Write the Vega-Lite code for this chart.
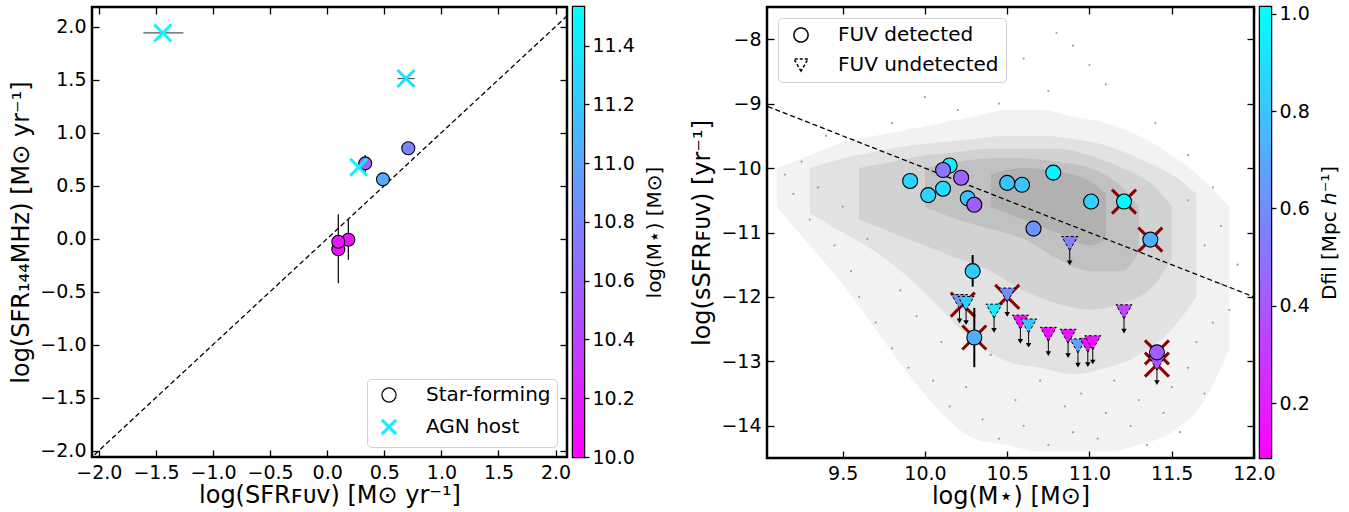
{
  "$schema": "https://vega.github.io/schema/vega-lite/v6.json",
  "background": "white",
  "padding": {"left": 8, "top": 3, "right": 2, "bottom": 2},
  "config": {
    "font": "DejaVu Sans",
    "view": {"stroke": "black", "strokeWidth": 2.5},
    "axis": {"grid": false, "domain": false, "ticks": true, "tickColor": "black", "tickWidth": 1.3, "tickSize": -7, "labelPadding": 13, "labelFontSize": 19, "labelColor": "black", "labelFont": "DejaVu Sans", "titleFont": "DejaVu Sans", "titleFontSize": 24, "titleFontWeight": "normal", "titleColor": "black", "labelFlush": false, "labelOverlap": false, "titlePadding": 6},
    "legend": {"labelFontSize": 20, "labelColor": "black", "labelFont": "DejaVu Sans", "labelLimit": 400, "fillColor": "white", "strokeColor": "#d0d0d0", "cornerRadius": 4, "padding": 6, "rowPadding": 8, "symbolSize": 200, "symbolOpacity": 1, "labelOffset": 27, "symbolOffset": 6}
  },
  "datasets": {
    "diag": [{"v": -2.5}, {"v": 2.5}],
    "sf": [
      {"sfuv": 0.333, "s144": 0.71, "mass": 10.6},
      {"sfuv": 0.488, "s144": 0.559, "mass": 11.0},
      {"sfuv": 0.71, "s144": 0.852, "mass": 10.78},
      {"sfuv": 0.185, "s144": -0.01, "mass": 10.12},
      {"sfuv": 0.097, "s144": -0.10, "mass": 10.1},
      {"sfuv": 0.097, "s144": -0.03, "mass": 10.12}
    ],
    "agn": [
      {"sfuv": -1.44, "s144": 1.94, "mass": 11.47},
      {"sfuv": 0.69, "s144": 1.51, "mass": 11.3},
      {"sfuv": 0.275, "s144": 0.673, "mass": 11.45}
    ],
    "errv1": [
      {"sfuv": 0.097, "lo": -0.42, "hi": 0.23},
      {"sfuv": 0.185, "lo": -0.20, "hi": 0.18},
      {"sfuv": 0.333, "lo": 0.63, "hi": 0.79}
    ],
    "errh1": [
      {"s144": 1.94, "lo": -1.61, "hi": -1.26},
      {"s144": 1.51, "lo": 0.615, "hi": 0.765}
    ],
    "kindsL": [{"kind": "Star-forming"}, {"kind": "AGN host"}],
    "kindsR": [{"kind": "FUV detected"}, {"kind": "FUV undetected"}],
    "cloud": [
      {"m": 9.1, "lo": -10.0, "hi": -10.6, "lev": 1},
      {"m": 9.3, "lo": -9.8, "hi": -11.2, "lev": 1},
      {"m": 9.5, "lo": -9.6, "hi": -11.8, "lev": 1},
      {"m": 9.7, "lo": -9.5, "hi": -12.5, "lev": 1},
      {"m": 9.9, "lo": -9.4, "hi": -13.2, "lev": 1},
      {"m": 10.1, "lo": -9.3, "hi": -13.8, "lev": 1},
      {"m": 10.3, "lo": -9.2, "hi": -14.2, "lev": 1},
      {"m": 10.5, "lo": -9.1, "hi": -14.3, "lev": 1},
      {"m": 10.7, "lo": -9.1, "hi": -14.4, "lev": 1},
      {"m": 10.9, "lo": -9.2, "hi": -14.4, "lev": 1},
      {"m": 11.1, "lo": -9.3, "hi": -14.4, "lev": 1},
      {"m": 11.3, "lo": -9.5, "hi": -14.3, "lev": 1},
      {"m": 11.5, "lo": -9.8, "hi": -14.1, "lev": 1},
      {"m": 11.7, "lo": -10.2, "hi": -13.6, "lev": 1},
      {"m": 11.85, "lo": -10.6, "hi": -12.8, "lev": 1},
      {"m": 9.3, "lo": -10.0, "hi": -10.7, "lev": 2},
      {"m": 9.5, "lo": -9.85, "hi": -11.0, "lev": 2},
      {"m": 9.7, "lo": -9.75, "hi": -11.3, "lev": 2},
      {"m": 9.9, "lo": -9.65, "hi": -11.7, "lev": 2},
      {"m": 10.1, "lo": -9.6, "hi": -12.2, "lev": 2},
      {"m": 10.3, "lo": -9.55, "hi": -12.7, "lev": 2},
      {"m": 10.5, "lo": -9.5, "hi": -13.0, "lev": 2},
      {"m": 10.7, "lo": -9.5, "hi": -13.1, "lev": 2},
      {"m": 10.9, "lo": -9.55, "hi": -13.2, "lev": 2},
      {"m": 11.1, "lo": -9.65, "hi": -13.1, "lev": 2},
      {"m": 11.3, "lo": -9.85, "hi": -12.9, "lev": 2},
      {"m": 11.5, "lo": -10.1, "hi": -12.5, "lev": 2},
      {"m": 11.65, "lo": -10.4, "hi": -12.0, "lev": 2},
      {"m": 9.6, "lo": -10.0, "hi": -10.8, "lev": 3},
      {"m": 9.8, "lo": -9.9, "hi": -11.0, "lev": 3},
      {"m": 10.0, "lo": -9.8, "hi": -11.2, "lev": 3},
      {"m": 10.2, "lo": -9.75, "hi": -11.4, "lev": 3},
      {"m": 10.4, "lo": -9.7, "hi": -11.6, "lev": 3},
      {"m": 10.6, "lo": -9.7, "hi": -11.9, "lev": 3},
      {"m": 10.8, "lo": -9.7, "hi": -12.1, "lev": 3},
      {"m": 11.0, "lo": -9.8, "hi": -12.2, "lev": 3},
      {"m": 11.2, "lo": -10.0, "hi": -12.1, "lev": 3},
      {"m": 11.4, "lo": -10.3, "hi": -11.8, "lev": 3},
      {"m": 11.5, "lo": -10.6, "hi": -11.4, "lev": 3},
      {"m": 10.0, "lo": -10.0, "hi": -10.6, "lev": 4},
      {"m": 10.2, "lo": -9.9, "hi": -10.8, "lev": 4},
      {"m": 10.4, "lo": -9.85, "hi": -10.95, "lev": 4},
      {"m": 10.6, "lo": -9.85, "hi": -11.1, "lev": 4},
      {"m": 10.8, "lo": -9.9, "hi": -11.4, "lev": 4},
      {"m": 11.0, "lo": -10.0, "hi": -11.6, "lev": 4},
      {"m": 11.2, "lo": -10.3, "hi": -11.6, "lev": 4},
      {"m": 11.3, "lo": -10.6, "hi": -11.3, "lev": 4},
      {"m": 10.4, "lo": -10.1, "hi": -10.6, "lev": 5},
      {"m": 10.6, "lo": -10.0, "hi": -10.8, "lev": 5},
      {"m": 10.8, "lo": -10.05, "hi": -11.0, "lev": 5},
      {"m": 11.0, "lo": -10.2, "hi": -11.2, "lev": 5},
      {"m": 11.1, "lo": -10.4, "hi": -11.1, "lev": 5}
    ],
    "dots": [
      {"m": 10.3, "s": -8.6}, {"m": 10.6, "s": -8.3}, {"m": 10.9, "s": -8.1}, {"m": 10.75, "s": -8.8},
      {"m": 11.1, "s": -8.7}, {"m": 10.45, "s": -9.0}, {"m": 9.8, "s": -9.3}, {"m": 9.4, "s": -9.5},
      {"m": 11.4, "s": -9.3}, {"m": 11.6, "s": -9.8}, {"m": 10.0, "s": -8.9}, {"m": 10.2, "s": -9.1},
      {"m": 11.0, "s": -8.4}, {"m": 10.8, "s": -7.9}, {"m": 9.15, "s": -10.1}, {"m": 9.2, "s": -10.4},
      {"m": 9.25, "s": -9.9}, {"m": 9.3, "s": -10.8}, {"m": 9.35, "s": -10.3}, {"m": 9.45, "s": -11.2},
      {"m": 9.5, "s": -10.6}, {"m": 9.55, "s": -11.6}, {"m": 9.6, "s": -12.0}, {"m": 9.65, "s": -11.1},
      {"m": 9.7, "s": -12.4}, {"m": 9.8, "s": -12.8}, {"m": 9.85, "s": -11.9}, {"m": 9.9, "s": -13.1},
      {"m": 9.95, "s": -12.3}, {"m": 10.05, "s": -13.3}, {"m": 10.1, "s": -12.7}, {"m": 10.15, "s": -13.7},
      {"m": 10.25, "s": -13.4}, {"m": 10.35, "s": -13.9}, {"m": 10.4, "s": -12.9}, {"m": 10.45, "s": -14.2},
      {"m": 10.55, "s": -13.6}, {"m": 10.6, "s": -14.0}, {"m": 10.7, "s": -13.3}, {"m": 10.75, "s": -14.3},
      {"m": 10.85, "s": -13.7}, {"m": 10.9, "s": -14.1}, {"m": 10.95, "s": -13.5}, {"m": 11.05, "s": -14.2},
      {"m": 11.1, "s": -13.8}, {"m": 11.15, "s": -13.3}, {"m": 11.25, "s": -14.0}, {"m": 11.3, "s": -13.6},
      {"m": 11.35, "s": -14.3}, {"m": 11.45, "s": -13.8}, {"m": 11.5, "s": -13.4}, {"m": 11.55, "s": -14.1},
      {"m": 11.6, "s": -13.1}, {"m": 11.65, "s": -12.7}, {"m": 11.7, "s": -13.5}, {"m": 11.75, "s": -12.4},
      {"m": 11.8, "s": -11.8}, {"m": 11.85, "s": -12.2}, {"m": 11.9, "s": -11.5}, {"m": 11.7, "s": -11.2},
      {"m": 11.8, "s": -10.9}, {"m": 11.6, "s": -10.5}, {"m": 11.75, "s": -10.3}
    ],
    "msline": [{"m": 9.0, "s": -9.0}, {"m": 12.0, "s": -12.0}],
    "det": [
      {"m": 9.91, "s": -10.20, "d": 0.85},
      {"m": 10.02, "s": -10.42, "d": 0.85},
      {"m": 10.11, "s": -10.32, "d": 0.88},
      {"m": 10.15, "s": -9.96, "d": 0.95},
      {"m": 10.11, "s": -10.03, "d": 0.52},
      {"m": 10.22, "s": -10.15, "d": 0.45},
      {"m": 10.26, "s": -10.47, "d": 0.80},
      {"m": 10.30, "s": -10.57, "d": 0.43},
      {"m": 10.50, "s": -10.23, "d": 0.80},
      {"m": 10.59, "s": -10.26, "d": 0.80},
      {"m": 10.78, "s": -10.07, "d": 0.97},
      {"m": 10.66, "s": -10.94, "d": 0.62},
      {"m": 11.01, "s": -10.52, "d": 0.85},
      {"m": 11.21, "s": -10.52, "d": 1.0},
      {"m": 11.37, "s": -11.11, "d": 0.73},
      {"m": 10.29, "s": -11.60, "d": 0.82},
      {"m": 10.30, "s": -12.63, "d": 0.71},
      {"m": 11.41, "s": -12.86, "d": 0.43}
    ],
    "undet": [
      {"m": 10.88, "s": -11.17, "lim": -11.47, "d": 0.55},
      {"m": 10.21, "s": -12.07, "lim": -12.37, "d": 0.62},
      {"m": 10.25, "s": -12.10, "lim": -12.40, "d": 0.82},
      {"m": 10.42, "s": -12.22, "lim": -12.52, "d": 0.95},
      {"m": 10.50, "s": -11.97, "lim": -12.27, "d": 0.60},
      {"m": 10.58, "s": -12.39, "lim": -12.69, "d": 0.13},
      {"m": 10.63, "s": -12.45, "lim": -12.75, "d": 0.80},
      {"m": 10.75, "s": -12.58, "lim": -12.88, "d": 0.12},
      {"m": 10.87, "s": -12.61, "lim": -12.91, "d": 0.15},
      {"m": 10.93, "s": -12.76, "lim": -13.06, "d": 0.68},
      {"m": 10.99, "s": -12.75, "lim": -13.05, "d": 0.12},
      {"m": 11.02, "s": -12.71, "lim": -13.01, "d": 0.16},
      {"m": 11.21, "s": -12.23, "lim": -12.53, "d": 0.33},
      {"m": 11.41, "s": -13.03, "lim": -13.33, "d": 0.40}
    ],
    "xmarks": [
      {"m": 11.21, "s": -10.52}, {"m": 11.37, "s": -11.11}, {"m": 10.23, "s": -12.12},
      {"m": 10.50, "s": -12.00}, {"m": 10.30, "s": -12.63}, {"m": 11.41, "s": -12.86},
      {"m": 11.41, "s": -13.05}
    ],
    "errR": [
      {"m": 10.29, "lo": -11.35, "hi": -11.84},
      {"m": 10.30, "lo": -12.17, "hi": -13.09}
    ]
  },
  "spacing": 23,
  "resolve": {"scale": {"fill": "independent", "stroke": "independent", "color": "independent", "shape": "independent", "strokeWidth": "independent", "strokeDash": "independent", "opacity": "independent"}},
  "hconcat": [
    {
      "spacing": 6,
      "bounds": "flush",
      "resolve": {"scale": {"fill": "independent", "stroke": "independent", "color": "independent", "shape": "independent", "strokeWidth": "independent", "strokeDash": "independent", "opacity": "independent"}},
      "hconcat": [
        {
          "width": 475, "height": 450,
          "layer": [
            {"data": {"name": "diag"},
             "mark": {"type": "line", "color": "black", "strokeWidth": 1.3, "strokeDash": [5, 3], "clip": true},
             "encoding": {
               "x": {"field": "v", "type": "quantitative", "scale": {"domain": [-2.06, 2.1], "nice": false, "zero": false},
                     "axis": {"orient": "bottom", "values": [-2, -1.5, -1, -0.5, 0, 0.5, 1, 1.5, 2], "format": ".1f", "title": "log(SFRꜰᴜᴠ) [M⊙ yr⁻¹]", "titlePadding": 1}},
               "y": {"field": "v", "type": "quantitative", "scale": {"domain": [-2.06, 2.185], "nice": false, "zero": false},
                     "axis": {"orient": "left", "values": [-2, -1.5, -1, -0.5, 0, 0.5, 1, 1.5, 2], "format": ".1f", "title": "log(SFR₁₄₄MHz) [M⊙ yr⁻¹]"}}
             }},
            {"data": {"name": "diag"},
             "mark": {"type": "line", "opacity": 0, "clip": true},
             "encoding": {
               "x": {"field": "v", "type": "quantitative", "scale": {"domain": [-2.06, 2.1], "nice": false, "zero": false},
                     "axis": {"orient": "top", "values": [-2, -1.5, -1, -0.5, 0, 0.5, 1, 1.5, 2], "labels": false, "title": null}},
               "y": {"field": "v", "type": "quantitative", "scale": {"domain": [-2.06, 2.185], "nice": false, "zero": false},
                     "axis": {"orient": "right", "values": [-2, -1.5, -1, -0.5, 0, 0.5, 1, 1.5, 2], "labels": false, "title": null}}
             }},
            {"data": {"name": "errv1"},
             "mark": {"type": "rule", "color": "black", "strokeWidth": 1.2},
             "encoding": {
               "x": {"field": "sfuv", "type": "quantitative", "scale": {"domain": [-2.06, 2.1], "nice": false, "zero": false}, "axis": null},
               "y": {"field": "lo", "type": "quantitative", "scale": {"domain": [-2.06, 2.185], "nice": false, "zero": false}, "axis": null},
               "y2": {"field": "hi"}
             }},
            {"data": {"name": "errh1"},
             "mark": {"type": "rule", "color": "#555555", "strokeWidth": 1.2},
             "encoding": {
               "y": {"field": "s144", "type": "quantitative", "scale": {"domain": [-2.06, 2.185], "nice": false, "zero": false}, "axis": null},
               "x": {"field": "lo", "type": "quantitative", "scale": {"domain": [-2.06, 2.1], "nice": false, "zero": false}, "axis": null},
               "x2": {"field": "hi"}
             }},
            {"data": {"name": "sf"},
             "mark": {"type": "point", "shape": "circle", "filled": true, "size": 169, "stroke": "black", "strokeWidth": 1.1, "opacity": 1},
             "encoding": {
               "x": {"field": "sfuv", "type": "quantitative", "scale": {"domain": [-2.06, 2.1], "nice": false, "zero": false}, "axis": null},
               "y": {"field": "s144", "type": "quantitative", "scale": {"domain": [-2.06, 2.185], "nice": false, "zero": false}, "axis": null},
               "fill": {"field": "mass", "type": "quantitative", "scale": {"domain": [10, 11.5], "range": ["#ff00ff", "#00ffff"], "interpolate": "rgb"}, "legend": null}
             }},
            {"data": {"name": "agn"},
             "mark": {"type": "point", "shape": "M-1,-1L1,1M1,-1L-1,1", "filled": false, "size": 289, "strokeWidth": 3, "opacity": 1},
             "encoding": {
               "x": {"field": "sfuv", "type": "quantitative", "scale": {"domain": [-2.06, 2.1], "nice": false, "zero": false}, "axis": null},
               "y": {"field": "s144", "type": "quantitative", "scale": {"domain": [-2.06, 2.185], "nice": false, "zero": false}, "axis": null},
               "color": {"field": "mass", "type": "quantitative", "scale": {"domain": [10, 11.5], "range": ["#ff00ff", "#00ffff"], "interpolate": "rgb"}, "legend": null}
             }},
            {"data": {"name": "kindsL"},
             "mark": {"type": "point", "filled": false, "opacity": 0},
             "encoding": {
               "shape": {"field": "kind", "type": "nominal", "scale": {"domain": ["Star-forming", "AGN host"], "range": ["circle", "M-1,-1L1,1M1,-1L-1,1"]},
                         "legend": {"title": null, "orient": "bottom-right", "offset": 10}},
               "stroke": {"field": "kind", "type": "nominal", "scale": {"domain": ["Star-forming", "AGN host"], "range": ["black", "#10eeff"]},
                          "legend": {"title": null, "orient": "bottom-right", "offset": 10}},
               "strokeWidth": {"field": "kind", "type": "ordinal", "scale": {"domain": ["Star-forming", "AGN host"], "range": [1.2, 3]},
                               "legend": {"title": null, "orient": "bottom-right", "offset": 10}}
             }}
          ],
          "resolve": {"axis": {"x": "independent", "y": "independent"}}
        },
        {
          "width": 11, "height": 450,
          "data": {"values": [{"lo": 10.0, "hi": 11.531}]},
          "mark": {"type": "rect", "fill": {"gradient": "linear", "x1": 0, "y1": 1, "x2": 0, "y2": 0, "stops": [{"offset": 0, "color": "#ff00ff"}, {"offset": 1, "color": "#00ffff"}]}},
          "encoding": {
            "y": {"field": "lo", "type": "quantitative", "scale": {"domain": [10, 11.531], "nice": false, "zero": false},
                  "axis": {"orient": "right", "values": [10, 10.2, 10.4, 10.6, 10.8, 11, 11.2, 11.4], "format": ".1f", "tickSize": 5, "labelPadding": 3, "title": "log(M⋆) [M⊙]", "titleAngle": 270, "titleBaseline": "top", "titleFontSize": 20, "titlePadding": 10}},
            "y2": {"field": "hi"}
          }
        }
      ]
    },
    {
      "spacing": 6,
      "bounds": "flush",
      "resolve": {"scale": {"fill": "independent", "stroke": "independent", "color": "independent", "shape": "independent", "strokeWidth": "independent", "strokeDash": "independent", "opacity": "independent"}},
      "hconcat": [
        {
          "width": 487, "height": 451,
          "layer": [
            {"data": {"name": "cloud"},
             "mark": {"type": "area", "color": "#555555", "interpolate": "monotone"},
             "encoding": {
               "x": {"field": "m", "type": "quantitative", "scale": {"domain": [9.04, 12.0], "nice": false, "zero": false},
                     "axis": {"orient": "bottom", "values": [9.5, 10, 10.5, 11, 11.5, 12], "format": ".1f", "title": "log(M⋆) [M⊙]", "titlePadding": 1}},
               "y": {"field": "lo", "type": "quantitative", "scale": {"domain": [-14.5, -7.5], "nice": false, "zero": false},
                     "axis": {"orient": "left", "values": [-14, -13, -12, -11, -10, -9, -8], "format": "d", "title": "log(sSFRꜰᴜᴠ) [yr⁻¹]"}},
               "y2": {"field": "hi"},
               "detail": {"field": "lev", "type": "nominal"},
               "opacity": {"field": "lev", "type": "ordinal", "scale": {"domain": [1, 2, 3, 4, 5], "range": [0.08, 0.15, 0.22, 0.3, 0.34]}, "legend": null}
             }},
            {"data": {"name": "dots"},
             "mark": {"type": "circle", "color": "#999999", "size": 5, "opacity": 0.9},
             "encoding": {
               "x": {"field": "m", "type": "quantitative", "scale": {"domain": [9.04, 12.0], "nice": false, "zero": false}, "axis": null},
               "y": {"field": "s", "type": "quantitative", "scale": {"domain": [-14.5, -7.5], "nice": false, "zero": false}, "axis": null}
             }},
            {"data": {"name": "msline"},
             "mark": {"type": "line", "color": "black", "strokeWidth": 1.3, "strokeDash": [5, 3], "clip": true},
             "encoding": {
               "x": {"field": "m", "type": "quantitative", "scale": {"domain": [9.04, 12.0], "nice": false, "zero": false},
                     "axis": {"orient": "top", "values": [9.5, 10, 10.5, 11, 11.5, 12], "labels": false, "title": null}},
               "y": {"field": "s", "type": "quantitative", "scale": {"domain": [-14.5, -7.5], "nice": false, "zero": false},
                     "axis": {"orient": "right", "values": [-14, -13, -12, -11, -10, -9, -8], "labels": false, "title": null}}
             }},
            {"data": {"name": "xmarks"},
             "mark": {"type": "point", "shape": "M-1,-1L1,1M1,-1L-1,1", "filled": false, "size": 576, "strokeWidth": 3, "color": "#8b0000", "opacity": 1},
             "encoding": {
               "x": {"field": "m", "type": "quantitative", "scale": {"domain": [9.04, 12.0], "nice": false, "zero": false}, "axis": null},
               "y": {"field": "s", "type": "quantitative", "scale": {"domain": [-14.5, -7.5], "nice": false, "zero": false}, "axis": null}
             }},
            {"data": {"name": "errR"},
             "mark": {"type": "rule", "color": "black", "strokeWidth": 2},
             "encoding": {
               "x": {"field": "m", "type": "quantitative", "scale": {"domain": [9.04, 12.0], "nice": false, "zero": false}, "axis": null},
               "y": {"field": "lo", "type": "quantitative", "scale": {"domain": [-14.5, -7.5], "nice": false, "zero": false}, "axis": null},
               "y2": {"field": "hi"}
             }},
            {"data": {"name": "undet"},
             "mark": {"type": "rule", "color": "black", "strokeWidth": 1},
             "encoding": {
               "x": {"field": "m", "type": "quantitative", "scale": {"domain": [9.04, 12.0], "nice": false, "zero": false}, "axis": null},
               "y": {"field": "s", "type": "quantitative", "scale": {"domain": [-14.5, -7.5], "nice": false, "zero": false}, "axis": null},
               "y2": {"field": "lim"}
             }},
            {"data": {"name": "undet"},
             "mark": {"type": "point", "shape": "triangle-down", "filled": true, "size": 30, "color": "black", "opacity": 1},
             "encoding": {
               "x": {"field": "m", "type": "quantitative", "scale": {"domain": [9.04, 12.0], "nice": false, "zero": false}, "axis": null},
               "y": {"field": "lim", "type": "quantitative", "scale": {"domain": [-14.5, -7.5], "nice": false, "zero": false}, "axis": null}
             }},
            {"data": {"name": "undet"},
             "mark": {"type": "point", "shape": "triangle-down", "filled": true, "size": 256, "stroke": "black", "strokeWidth": 1, "strokeDash": [3, 2], "opacity": 1},
             "encoding": {
               "x": {"field": "m", "type": "quantitative", "scale": {"domain": [9.04, 12.0], "nice": false, "zero": false}, "axis": null},
               "y": {"field": "s", "type": "quantitative", "scale": {"domain": [-14.5, -7.5], "nice": false, "zero": false}, "axis": null},
               "fill": {"field": "d", "type": "quantitative", "scale": {"domain": [0.087, 1.014], "range": ["#ff00ff", "#00ffff"], "interpolate": "rgb"}, "legend": null}
             }},
            {"data": {"name": "det"},
             "mark": {"type": "point", "shape": "circle", "filled": true, "size": 225, "stroke": "black", "strokeWidth": 1.1, "opacity": 1},
             "encoding": {
               "x": {"field": "m", "type": "quantitative", "scale": {"domain": [9.04, 12.0], "nice": false, "zero": false}, "axis": null},
               "y": {"field": "s", "type": "quantitative", "scale": {"domain": [-14.5, -7.5], "nice": false, "zero": false}, "axis": null},
               "fill": {"field": "d", "type": "quantitative", "scale": {"domain": [0.087, 1.014], "range": ["#ff00ff", "#00ffff"], "interpolate": "rgb"}, "legend": null}
             }},
            {"data": {"name": "kindsR"},
             "mark": {"type": "point", "filled": false, "opacity": 0, "color": "black", "strokeWidth": 1.1},
             "encoding": {
               "shape": {"field": "kind", "type": "nominal", "scale": {"domain": ["FUV detected", "FUV undetected"], "range": ["circle", "triangle-down"]},
                         "legend": {"title": null, "orient": "top-left", "offset": 11, "padding": 7, "rowPadding": 9}},
               "strokeDash": {"field": "kind", "type": "nominal", "scale": {"domain": ["FUV detected", "FUV undetected"], "range": [[1, 0], [3, 2]]},
                              "legend": {"title": null, "orient": "top-left", "offset": 11, "padding": 7, "rowPadding": 9}}
             }}
          ],
          "resolve": {"axis": {"x": "independent", "y": "independent"}}
        },
        {
          "width": 11, "height": 451,
          "data": {"values": [{"lo": 0.087, "hi": 1.014}]},
          "mark": {"type": "rect", "fill": {"gradient": "linear", "x1": 0, "y1": 1, "x2": 0, "y2": 0, "stops": [{"offset": 0, "color": "#ff00ff"}, {"offset": 1, "color": "#00ffff"}]}},
          "encoding": {
            "y": {"field": "lo", "type": "quantitative", "scale": {"domain": [0.087, 1.014], "nice": false, "zero": false},
                  "axis": {"orient": "right", "values": [0.2, 0.4, 0.6, 0.8, 1.0], "format": ".1f", "tickSize": 5, "labelPadding": 3, "title": "Dfil [Mpc ℎ⁻¹]", "titleAngle": 270, "titleBaseline": "top", "titleFontSize": 20, "titlePadding": 10}},
            "y2": {"field": "hi"}
          }
        }
      ]
    }
  ]
}
